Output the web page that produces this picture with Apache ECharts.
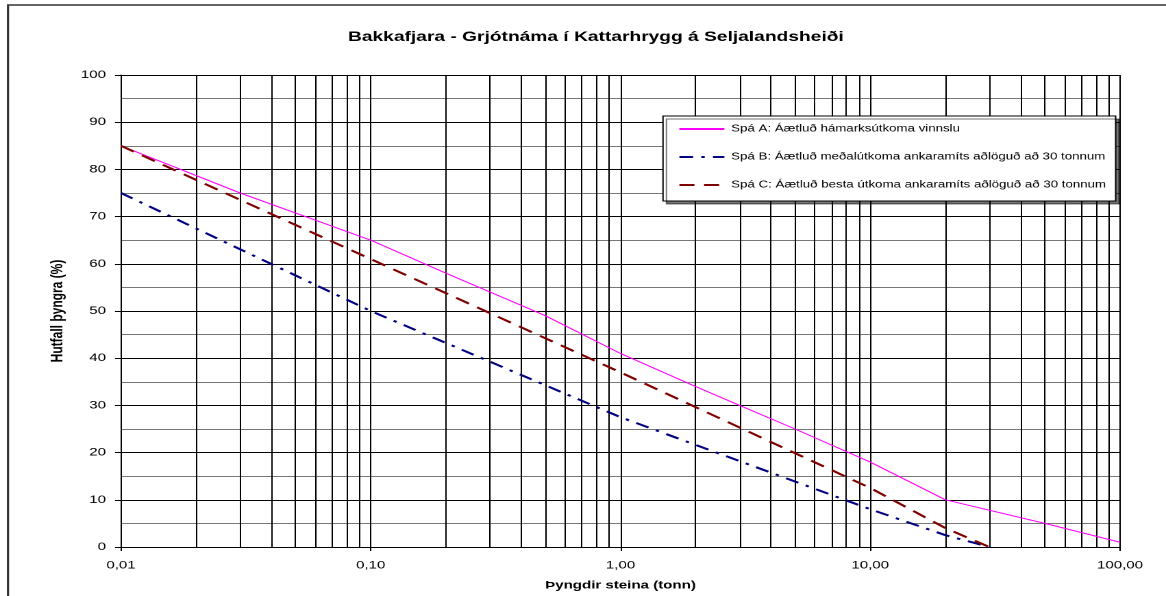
<!DOCTYPE html>
<html><head><meta charset="utf-8">
<script src="https://cdn.jsdelivr.net/npm/echarts@6/dist/echarts.min.js"></script>
<style>
html,body{margin:0;padding:0;background:#fff}
#wrap{width:1166px;height:596px;overflow:hidden;position:relative}
#c{width:851px;height:596px;transform:scaleX(1.37015);transform-origin:0 0}
</style>
</head><body><div id="wrap"><div id="c"></div></div>
<script>
const chartTitle = 'Bakkafjara - Grjótnáma í Kattarhrygg á Seljalandsheiði';
const xAxisName = 'Þyngdir steina (tonn)';
const yAxisName = 'Hutfall þyngra (%)';
const seriesNames = [
  'Spá A: Áætluð hámarksútkoma vinnslu',
  'Spá B: Áætluð meðalútkoma ankaramíts aðlöguð að 30 tonnum',
  'Spá C: Áætluð besta útkoma ankaramíts aðlöguð að 30 tonnum'
];
const weightsA = [0.01, 0.03, 0.1, 0.2, 0.5, 1, 2, 3, 5, 10, 20, 50, 100];
const percentA = [85, 75, 65, 58, 49, 41, 34, 30, 25, 18, 10, 5, 1];
const weightsB = [0.01, 0.1, 1, 10, 20, 30];
const percentB = [75, 50, 27.5, 8, 2.5, 0];
const weightsC = [0.01, 0.1, 1, 10, 20, 30];
const percentC = [85, 61, 37, 12.5, 4, 0];
const xTickValues = [0.01, 0.1, 1, 10, 100];
const xTickLabels = ['0,01', '0,10', '1,00', '10,00', '100,00'];
const xMinorGridValues = [0.02,0.03,0.04,0.05,0.06,0.07,0.08,0.09,
  0.2,0.3,0.4,0.5,0.6,0.7,0.8,0.9, 2,3,4,5,6,7,8,9, 20,30,40,50,60,70,80,90];
const yMin = 0, yMax = 100, yStep = 10;

// the reference is horizontally stretched; the chart is laid out at width 851 and scaled by S
const S = 1166 / 851;
const font = 'Liberation Sans, Arial, sans-serif';
const pairs = (xs, ys) => xs.map((x, i) => [x, ys[i]]);
const chart = echarts.init(document.getElementById('c'), null, {renderer: 'canvas', devicePixelRatio: 2});
chart.setOption({
  animation: false,
  backgroundColor: '#fff',
  title: {
    text: chartTitle, left: 589 / S, top: 25, textAlign: 'center',
    textStyle: {fontFamily: font, fontSize: 14, fontWeight: 'bold', color: '#000'}
  },
  graphic: [{
    type: 'rect', silent: true,
    shape: {x: 8 / S, y: 5, width: 1200, height: 700},
    style: {fill: 'none', stroke: '#333', lineWidth: 1.6}
  }],
  legend: {
    orient: 'vertical', left: 663 / S, top: 116,
    itemWidth: 45 / S, itemHeight: 10, itemGap: 18, itemTextGap: 4 / S,
    padding: [8, 7, 11, 15 / S],
    borderColor: '#000', borderWidth: 1, backgroundColor: '#fff',
    shadowColor: 'rgba(0,0,0,0.55)', shadowOffsetX: 2.5, shadowOffsetY: 3, shadowBlur: 0,
    itemStyle: {opacity: 0},
    textStyle: {fontFamily: font, fontSize: 9.7, color: '#000'},
    data: seriesNames
  },
  grid: {left: 121 / S, right: 46 / S, top: 75, bottom: 46, containLabel: false},
  xAxis: {
    type: 'log', logBase: 10, min: 0.01, max: 100,
    name: xAxisName, nameLocation: 'middle', nameGap: 33,
    nameTextStyle: {fontFamily: font, fontSize: 11, fontWeight: 'bold', color: '#000'},
    axisLine: {lineStyle: {color: '#000', width: 1}},
    axisTick: {show: true, length: 4, lineStyle: {color: '#000'}},
    axisLabel: {
      fontFamily: font, fontSize: 11, color: '#000', margin: 13,
      formatter: v => {
        const i = xTickValues.findIndex(t => Math.abs(Math.log10(t) - Math.log10(v)) < 1e-6);
        return i >= 0 ? xTickLabels[i] : '';
      }
    },
    splitLine: {show: true, lineStyle: {color: '#000', width: 1}}
  },
  yAxis: {
    type: 'value', min: yMin, max: yMax, interval: yStep,
    name: yAxisName, nameLocation: 'middle', nameGap: 38, nameRotate: 90,
    nameTextStyle: {fontFamily: font, fontSize: 12, fontWeight: 'bold', color: '#000'},
    axisLine: {show: true, lineStyle: {color: '#000', width: 1}},
    axisTick: {show: true, length: 6 / S, lineStyle: {color: '#000'}},
    axisLabel: {fontFamily: font, fontSize: 11, color: '#000', margin: 11},
    splitLine: {show: true, lineStyle: {color: '#000', width: 1}},
    minorTick: {show: false, splitNumber: 2},
    minorSplitLine: {show: true, lineStyle: {color: '#777', width: 1}}
  },
  series: [
    {
      name: seriesNames[0], type: 'line', symbol: 'none', z: 5,
      data: pairs(weightsA, percentA),
      lineStyle: {color: '#FF00FF', width: 1, type: 'solid'},
      itemStyle: {color: '#FF00FF'},
      markLine: {
        silent: true, symbol: 'none', label: {show: false}, z: 1,
        lineStyle: {color: '#000', width: 1, type: 'solid'},
        data: xMinorGridValues.map(v => ({xAxis: v}))
      }
    },
    {
      name: seriesNames[1], type: 'line', symbol: 'none', z: 6,
      data: pairs(weightsB, percentB),
      lineStyle: {color: '#000080', width: 2, type: [10, 6, 2.5, 6]},
      itemStyle: {color: '#000080'}
    },
    {
      name: seriesNames[2], type: 'line', symbol: 'none', z: 6,
      data: pairs(weightsC, percentC),
      lineStyle: {color: '#800000', width: 2, type: [11, 7]},
      itemStyle: {color: '#800000'}
    }
  ]
});
</script></body></html>
